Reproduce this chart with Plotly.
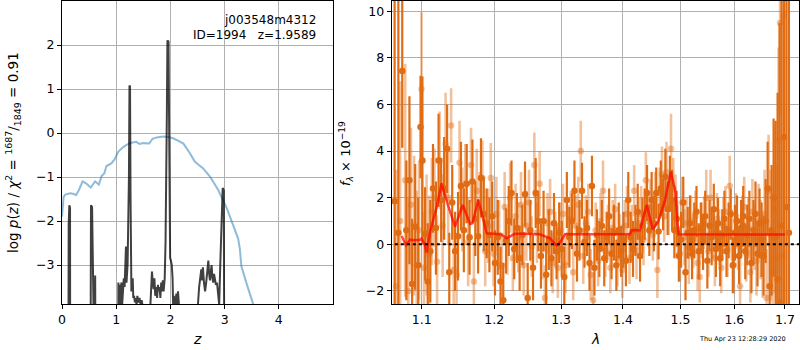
import numpy as np
import plotly.graph_objects as go

# ---------------- left panel: redshift PDF ----------------
prior_z = [0.0, 0.03, 0.06, 0.1, 0.15, 0.2, 0.26, 0.31, 0.38, 0.45, 0.53, 0.61, 0.68, 0.73, 0.78,
           0.82, 0.91, 0.97, 1.04, 1.12, 1.19, 1.28, 1.37, 1.43, 1.5, 1.61, 1.67, 1.75, 1.87,
           1.96, 2.05, 2.15, 2.24, 2.36, 2.45, 2.52, 2.6, 2.73, 2.88, 3.04, 3.16, 3.25, 3.28,
           3.31, 3.40, 3.52, 3.6]
prior_y = [-1.9, -1.45, -1.4, -1.39, -1.37, -1.38, -1.41, -1.3, -1.1, -1.15, -1.24, -1.1, -1.17,
           -0.98, -0.92, -0.75, -0.69, -0.6, -0.42, -0.33, -0.27, -0.22, -0.2, -0.25, -0.23,
           -0.24, -0.13, -0.1, -0.08, -0.09, -0.12, -0.18, -0.24, -0.46, -0.65, -0.72, -0.8,
           -0.99, -1.29, -1.71, -2.13, -2.4, -2.62, -3.03, -3.4, -3.86, -4.4]

pz_z = [0.0, 0.118, 0.123, 0.135, 0.148, 0.152, 0.525, 0.535, 0.555, 0.565, 0.605, 0.612, 0.62,
        1.035, 1.04, 1.05, 1.06, 1.075, 1.09, 1.1, 1.11, 1.125, 1.14, 1.155, 1.17, 1.18, 1.19,
        1.21, 1.235, 1.245, 1.255, 1.265, 1.28, 1.29, 1.305, 1.315, 1.33, 1.345, 1.36, 1.375,
        1.39, 1.41, 1.43, 1.45, 1.47, 1.49, 1.5, 1.54, 1.62, 1.635, 1.645, 1.66, 1.675, 1.69,
        1.705, 1.72, 1.74, 1.755, 1.77, 1.785, 1.8, 1.815, 1.83, 1.845, 1.86, 1.875, 1.895,
        1.91, 1.935, 1.945, 1.965, 1.975, 1.985, 1.995, 2.01, 2.025, 2.04, 2.05, 2.065, 2.08,
        2.095, 2.11, 2.125, 2.14, 2.155, 2.17, 2.2, 2.49, 2.51, 2.53, 2.55, 2.57, 2.585, 2.6,
        2.62, 2.64, 2.66, 2.68, 2.7, 2.715, 2.73, 2.745, 2.76, 2.775, 2.79, 2.805, 2.82, 2.84,
        2.86, 2.88, 2.9, 2.92, 2.945, 2.965, 2.985, 2.995, 5.0]
pz_y = [-6, -6, -2.1, -1.64, -1.7, -6, -6, -1.64, -1.68, -6, -6, -3.24, -6,
        -6, -3.4, -3.9, -3.45, -4.0, -3.45, -3.4, -3.9, -3.6, -3.3, -3.5, -2.6, -2.58, -3.4,
        -3.0, -1.0, 1.08, 1.05, -1.5, -3.6, -3.5, -3.3, -3.75, -3.7, -3.85, -3.75, -3.9,
        -3.7, -3.85, -3.75, -3.9, -3.8, -3.95, -4.2, -6, -4.2, -3.7, -3.6, -3.15, -3.4, -3.55,
        -3.3, -3.7, -3.5, -3.75, -3.45, -3.6, -3.5, -3.75, -3.4, -3.6, -3.35, -3.6, -3.3,
        -2.5, 0.5, 2.1, 2.08, 0.0, -2.7, -2.84, -2.9, -3.0, -3.3, -3.9, -3.7, -4.0,
        -3.85, -3.65, -3.9, -3.6, -3.85, -4.2, -6, -6, -3.87, -3.5, -3.3, -3.1, -3.35, -3.05,
        -3.4, -3.6, -3.4, -3.1, -2.9, -3.2, -3.35, -3.15, -3.0, -3.3, -3.4, -3.2, -3.3, -3.45,
        -3.4, -3.7, -3.9, -3.0, -2.0, -1.25, -1.3, -6, -6]

# ---------------- right panel: spectrum ----------------
wave_a = [1.0649, 1.0697, 1.0747, 1.0800, 1.0840, 1.0875, 1.0915, 1.0955, 1.0985, 1.1010, 1.1045,
          1.1080, 1.1115, 1.1150, 1.1190, 1.1225, 1.1260, 1.1300, 1.1340, 1.1370, 1.1410, 1.1450,
          1.1490, 1.1530, 1.1570, 1.1610, 1.1650, 1.1690, 1.1730, 1.1770, 1.1810, 1.1850, 1.1890,
          1.1930, 1.1970, 1.2010, 1.2050, 1.2090, 1.2130, 1.2170, 1.2210, 1.2250, 1.2290, 1.2330,
          1.2370, 1.2410, 1.2450, 1.2490, 1.2530, 1.2570, 1.2610, 1.2650, 1.2690, 1.2730, 1.2770,
          1.2810, 1.2850, 1.2890, 1.2930, 1.2970, 1.3010, 1.3050, 1.3090, 1.3130, 1.3170, 1.3210,
          1.3250, 1.3290, 1.3330, 1.3370, 1.3410, 1.3450, 1.3490, 1.3530, 1.3570, 1.3610, 1.3650,
          1.3690, 1.3730, 1.3770, 1.3810, 1.3850, 1.3890, 1.3930, 1.3970, 1.4010, 1.4050, 1.4090,
          1.4130, 1.4170, 1.4210, 1.4250, 1.4290, 1.4330, 1.4370, 1.4410, 1.4450, 1.4490, 1.4530,
          1.4570, 1.4610, 1.4650, 1.4690, 1.4730, 1.4770, 1.4810, 1.4850, 1.4890, 1.4930, 1.4970,
          1.5010, 1.5050, 1.5090, 1.5130, 1.5170, 1.5210, 1.5250, 1.5290, 1.5330, 1.5370, 1.5410,
          1.5450, 1.5490, 1.5530, 1.5570, 1.5610, 1.5650, 1.5690, 1.5730, 1.5770, 1.5810, 1.5850,
          1.5890, 1.5930, 1.5970, 1.6010, 1.6050, 1.6090, 1.6130, 1.6170, 1.6210, 1.6250, 1.6290,
          1.6330, 1.6370, 1.6410, 1.6450, 1.6490, 1.6530, 1.6570, 1.6610, 1.6650, 1.6690, 1.6730,
          1.6770, 1.6810, 1.6850, 1.6890, 1.6930, 1.6980, 1.7030, 1.7080]
flux_a = [1.85, 0.5, 7.44, 0.6, 2.75, -1.7, 0.75, -0.9, 5.03, 3.6, 0.45,
          -1.6, -0.3, 2.4, 0.7, 3.6, 1.9, 2.4, 4.1, -1.2, 1.8, -0.3,
          0.35, 2.5, 0.6, 2.6, 0.3, 2.7, 1.1, 0.35, 2.85, 1.3, 0.9,
          0.4, 1.2, -0.8, 0.3, -1.6, -2.4, 0.15, 1.0, 2.2, -0.2, 0.7,
          -0.6, 0.4, 2.15, -2.3, 0.6, -1.0, 2.2, 1.0, -0.5, 1.0, -1.3,
          0.2, -0.6, 0.9, -0.3, 0.5, -0.2, -1.4, 1.9, 0.3, 1.0, 2.3,
          -0.4, 0.6, 2.3, 0.1, 0.7, -0.8, 2.5, -1.0, 0.4, -0.2, 0.8,
          -0.6, 0.3, 1.2, -0.4, 0.5, -0.9, 0.6, -0.3, 0.2, -0.7, 1.9,
          0.3, -0.2, 0.6, 1.4, -0.5, 0.8, 1.3, 2.2, 0.6, 1.9, 0.9,
          2.2, 0.55, 2.4, 1.7, 2.9, 1.5, 2.6, 1.9, 0.6, 1.1, -0.5,
          0.2, 1.8, -1.2, 0.5, 0.9, -0.4, 0.6, 1.4, -0.3, 0.7, 0.1,
          1.2, -0.7, 0.8, 0.3, 1.5, -0.2, 0.9, -0.6, 0.4, 1.1, -0.3,
          0.6, 1.3, -0.9, 0.5, 1.0, -0.5, 0.7, 1.2, -0.3, 0.4, 1.1,
          -0.8, 0.6, 1.3, -0.4, 0.9, 0.2, -0.5, 1.0, 2.4, -1.8, 0.6,
          2.0, 0.3, -1.5, -2.5, 0.8, 4.6, 1.6, 0.5]
err_a = [12.0, 12.0, 3.3, 3.0, 3.6, 2.8, 2.7, 2.9, 2.2, 3.6, 2.0,
         2.5, 2.2, 1.9, 2.0, 2.0, 1.8, 2.2, 1.9, 1.7, 1.6, 1.7,
         1.9, 1.9, 1.8, 1.7, 1.6, 1.8, 1.6, 1.6, 1.7, 1.6, 1.5,
         1.6, 1.5, 1.4, 1.6, 1.5, 1.6, 1.4, 1.5, 1.4, 1.3, 1.5,
         1.4, 1.3, 1.4, 1.5, 1.3, 1.4, 1.5, 1.3, 1.4, 1.3, 1.4,
         1.3, 1.2, 1.3, 1.2, 1.3, 1.2, 1.3, 1.2, 1.3, 1.2, 1.3,
         1.2, 1.3, 1.2, 1.1, 1.2, 1.2, 1.3, 1.2, 1.1, 1.2, 1.1,
         1.2, 1.1, 1.2, 1.1, 1.2, 1.1, 1.2, 1.1, 1.2, 1.1, 1.2,
         1.1, 1.2, 1.1, 1.2, 1.1, 1.2, 1.1, 1.2, 1.1, 1.2, 1.2,
         1.1, 1.2, 1.2, 1.1, 1.2, 1.1, 1.2, 1.3, 1.2, 1.2, 1.1,
         1.2, 1.1, 1.2, 1.1, 1.2, 1.1, 1.2, 1.1, 1.2, 1.1, 1.2,
         1.1, 1.2, 1.1, 1.2, 1.1, 1.2, 1.1, 1.2, 1.1, 1.2, 1.1,
         1.2, 1.1, 1.2, 1.2, 1.1, 1.2, 1.2, 1.3, 1.2, 1.3, 1.2,
         1.3, 1.3, 1.4, 1.4, 1.5, 1.6, 1.7, 1.8, 2.0, 2.3, 2.8,
         3.4, 5.0, 8.0, 12.0, 14.0, 14.0, 14.0, 14.0]

wave_b = [1.0670, 1.0720, 1.0785, 1.0825, 1.0860, 1.0900, 1.0935, 1.0965, 1.0998, 1.1030, 1.1065,
          1.1100, 1.1135, 1.1170, 1.1205, 1.1240, 1.1280, 1.1320, 1.1355, 1.1395, 1.1430, 1.1470,
          1.1510, 1.1550, 1.1590, 1.1630, 1.1670, 1.1710, 1.1750, 1.1790, 1.1830, 1.1870, 1.1910,
          1.1950, 1.1990, 1.2030, 1.2070, 1.2110, 1.2150, 1.2190, 1.2230, 1.2270, 1.2310, 1.2350,
          1.2390, 1.2430, 1.2470, 1.2510, 1.2550, 1.2590, 1.2630, 1.2670, 1.2710, 1.2750, 1.2790,
          1.2830, 1.2870, 1.2910, 1.2950, 1.2990, 1.3030, 1.3070, 1.3110, 1.3150, 1.3190, 1.3230,
          1.3270, 1.3310, 1.3350, 1.3390, 1.3430, 1.3470, 1.3510, 1.3550, 1.3590, 1.3630, 1.3670,
          1.3710, 1.3750, 1.3790, 1.3830, 1.3870, 1.3910, 1.3950, 1.3990, 1.4030, 1.4070, 1.4110,
          1.4150, 1.4190, 1.4230, 1.4270, 1.4310, 1.4350, 1.4390, 1.4430, 1.4470, 1.4510, 1.4550,
          1.4590, 1.4630, 1.4670, 1.4710, 1.4750, 1.4790, 1.4830, 1.4870, 1.4910, 1.4950, 1.4990,
          1.5030, 1.5070, 1.5110, 1.5150, 1.5190, 1.5230, 1.5270, 1.5310, 1.5350, 1.5390, 1.5430,
          1.5470, 1.5510, 1.5550, 1.5590, 1.5630, 1.5670, 1.5710, 1.5750, 1.5790, 1.5830, 1.5870,
          1.5910, 1.5950, 1.5990, 1.6030, 1.6070, 1.6110, 1.6150, 1.6190, 1.6230, 1.6270, 1.6310,
          1.6350, 1.6390, 1.6430, 1.6470, 1.6510, 1.6550, 1.6590, 1.6630, 1.6670, 1.6710, 1.6750,
          1.6790, 1.6830, 1.6870, 1.6900, 1.6950, 1.6975]
flux_b = [-1.8, 1.0, 2.75, -2.0, 1.7, 0.8, -0.9, 0.6, 6.66, -1.0, 0.4,
          -0.4, 1.4, 2.0, -0.75, 3.6, 0.8, 4.3, 2.0, 5.1, -1.1, -1.3,
          3.5, 1.5, 2.6, 0.1, 3.4, -1.6, 2.3, 1.5, 2.85, -0.3, 0.8,
          2.85, -0.4, 1.3, 0.4, -0.9, 1.6, 0.1, 2.0, -0.6, 1.2, 0.3,
          1.7, -0.9, 0.8, 1.8, -0.1, 3.4, 0.5, 2.6, -0.2, -2.3, 0.9,
          1.4, -0.8, 0.2, -1.0, 0.6, 1.3, -0.9, 0.4, 1.1, -1.2, 0.8,
          1.7, 4.0, -0.5, 0.9, 1.4, -1.3, -2.4, 0.6, -0.7, 1.0, 2.3,
          -0.3, 0.5, -1.0, 0.7, 1.5, -0.6, 0.2, -1.1, 0.8, 1.3, -0.6,
          0.5, 2.3, -0.3, 0.9, 1.3, 0.2, 2.75, 1.0, 1.6, 0.4, 1.9,
          -1.1, 2.2, 3.0, 1.2, 3.1, 1.6, 4.1, 2.4, 1.8, 0.6, -0.4,
          1.8, 0.3, 0.9, -0.5, 1.0, 0.2, 1.2, -0.8, -1.4, 0.6, 0.9,
          2.0, -0.3, 2.0, 0.5, -0.6, 1.1, 0.3, -1.0, 0.8, 1.4, -0.2,
          2.5, 0.4, -0.9, 1.0, 0.1, -1.8, 0.9, 1.6, -0.4, 0.7, -1.2,
          1.4, 0.3, -0.7, 1.0, 0.2, -0.5, 1.3, -2.3, 2.3, 0.4, -1.2,
          1.5, -0.6, 4.45, 9.5, -0.5, 9.8]
err_b = [5.0, 6.0, 5.0, 4.0, 3.3, 3.0, 3.2, 3.0, 3.3, 2.4, 2.6,
         2.5, 2.3, 2.1, 2.0, 2.1, 2.2, 2.2, 2.0, 1.6, 1.9, 1.8,
         1.8, 1.8, 1.7, 1.9, 1.6, 1.7, 1.8, 1.6, 1.6, 1.5, 1.6,
         1.5, 1.4, 1.6, 1.5, 1.4, 1.5, 1.4, 1.5, 1.4, 1.4, 1.5,
         1.4, 1.3, 1.5, 1.4, 1.3, 1.4, 1.3, 1.4, 1.3, 1.4, 1.3,
         1.4, 1.3, 1.2, 1.3, 1.2, 1.3, 1.2, 1.3, 1.2, 1.2, 1.3,
         1.2, 1.3, 1.2, 1.2, 1.2, 1.1, 1.2, 1.2, 1.1, 1.2, 1.3,
         1.1, 1.2, 1.1, 1.2, 1.1, 1.2, 1.1, 1.2, 1.1, 1.2, 1.1,
         1.2, 1.1, 1.2, 1.1, 1.2, 1.1, 1.2, 1.1, 1.2, 1.1, 1.2,
         1.2, 1.1, 1.2, 1.1, 1.3, 1.2, 1.5, 1.3, 1.2, 1.1, 1.2,
         1.1, 1.2, 1.1, 1.2, 1.1, 1.2, 1.1, 1.2, 1.1, 1.2, 1.1,
         1.2, 1.1, 1.2, 1.1, 1.2, 1.1, 1.2, 1.1, 1.2, 1.1, 1.2,
         1.3, 1.1, 1.2, 1.2, 1.2, 1.3, 1.2, 1.3, 1.2, 1.3, 1.3,
         1.4, 1.4, 1.5, 1.6, 1.7, 1.8, 1.9, 2.1, 2.4, 2.8, 3.2,
         3.6, 4.0, 4.0, 4.0, 5.0, 5.0]

model_wave = [1.0739, 1.0795, 1.0847, 1.0900, 1.0982, 1.1000, 1.1040, 1.1066, 1.1116, 1.1200,
              1.1266, 1.1350, 1.1449, 1.1555, 1.1657, 1.1690, 1.1772, 1.1840, 1.1891, 1.2000,
              1.2100, 1.2178, 1.2298, 1.2450, 1.2672, 1.2828, 1.2931, 1.2990, 1.3061, 1.3500,
              1.4000, 1.4118, 1.4150, 1.4289, 1.4405, 1.4509, 1.4607, 1.4725, 1.4826, 1.4903,
              1.4962, 1.5500, 1.6000, 1.6500, 1.7000]
model_flux = [0.36, -0.03, 0.2, 0.18, 0.2, 0.25, 0.0, -0.35, 0.6, 1.6,
              2.62, 1.7, 0.76, 1.69, 0.87, 0.9, 1.9, 1.0, 0.47, 0.45,
              0.42, 0.26, 0.45, 0.45, 0.43, 0.26, -0.06, 0.1, 0.43, 0.43,
              0.43, 0.43, 0.6, 0.6, 1.69, 0.64, 0.99, 1.9, 3.12, 2.32,
              0.43, 0.42, 0.42, 0.42, 0.42]

# ---------------- figure ----------------
FONT = "DejaVu Sans"
DARK = "rgb(224,108,19)"
LIGHT = "rgba(224,108,19,0.42)"

fig = go.Figure()

fig.add_trace(go.Scatter(x=prior_z, y=prior_y, mode="lines",
                         line=dict(color="rgba(31,119,180,0.5)", width=2),
                         xaxis="x", yaxis="y", showlegend=False, hoverinfo="skip"))
fig.add_trace(go.Scatter(x=pz_z, y=pz_y, mode="lines",
                         line=dict(color="rgba(0,0,0,0.75)", width=2),
                         xaxis="x", yaxis="y", showlegend=False, hoverinfo="skip"))

fig.add_trace(go.Scatter(x=wave_a, y=flux_a, mode="markers",
                         marker=dict(color=DARK, size=6.5),
                         error_y=dict(type="data", array=err_a, color=DARK, thickness=2.2, width=0),
                         xaxis="x2", yaxis="y2", showlegend=False, hoverinfo="skip"))
fig.add_trace(go.Scatter(x=wave_b, y=flux_b, mode="markers",
                         marker=dict(color=LIGHT, size=6.5),
                         error_y=dict(type="data", array=err_b, color=LIGHT, thickness=2.6, width=0),
                         xaxis="x2", yaxis="y2", showlegend=False, hoverinfo="skip"))
fig.add_trace(go.Scatter(x=model_wave, y=model_flux, mode="lines",
                         line=dict(color="rgba(255,0,0,0.7)", width=2.5),
                         xaxis="x2", yaxis="y2", showlegend=False, hoverinfo="skip"))
fig.add_trace(go.Scatter(x=[1.05, 1.75], y=[0, 0], mode="lines",
                         line=dict(color="black", width=2, dash="dot"),
                         xaxis="x2", yaxis="y2", showlegend=False, hoverinfo="skip"))

axis_common = dict(showline=True, mirror=True, linecolor="black", linewidth=1,
                   ticks="outside", ticklen=4, tickcolor="black", tickwidth=1,
                   showgrid=True, gridcolor="#b0b0b0", gridwidth=1, zeroline=False,
                   tickfont=dict(family=FONT, size=12.5, color="black"), automargin=False)

YDOM = [46 / 350, 349 / 350]

fig.update_layout(
    width=800, height=350,
    margin=dict(l=0, r=0, t=0, b=0),
    paper_bgcolor="white", plot_bgcolor="white",
    xaxis=dict(domain=[62 / 800, 333 / 800], range=[0, 5], tickvals=[0, 1, 2, 3, 4],
               anchor="y", **axis_common),
    yaxis=dict(domain=YDOM, range=[-3.886, 3.0], tickvals=[-3, -2, -1, 0, 1, 2],
               anchor="x", **axis_common),
    xaxis2=dict(domain=[391.7 / 800, 799 / 800], type="log",
                range=[np.log10(1.0612), np.log10(1.7288)],
                tickvals=[1.1, 1.2, 1.3, 1.4, 1.5, 1.6, 1.7],
                ticktext=["1.1", "1.2", "1.3", "1.4", "1.5", "1.6", "1.7"],
                anchor="y2", **axis_common),
    yaxis2=dict(domain=YDOM, range=[-2.56, 10.44], tickvals=[-2, 0, 2, 4, 6, 8, 10],
                anchor="x2", **axis_common),
)

def ann(text, x, y, size=12.5, angle=0, xanchor="center"):
    fig.add_annotation(text=text, x=x, y=y, xref="paper", yref="paper",
                       xanchor=xanchor, yanchor="middle", showarrow=False, textangle=angle,
                       font=dict(family=FONT, size=size, color="black"))

ann("j003548m4312", 318 / 800, 1 - 20 / 350, size=12, xanchor="right")
ann("ID=1994\u00a0\u00a0\u00a0z=1.9589", 318 / 800, 1 - 35 / 350, size=12, xanchor="right")
ann("<i>z</i>", 197 / 800, 1 - 339 / 350, size=14)
ann("<i>λ</i>", 595 / 800, 1 - 339 / 350, size=14)
ann("log <i>p</i>(<i>z</i>) / <i>χ</i><sup>2</sup> = <sup>1687</sup>/<sub>1849</sub> = 0.91",
    13 / 800, 1 - 153 / 350, size=13.5, angle=-90)
ann("<i>f</i><sub><i>λ</i></sub> × 10<sup>−19</sup>", 346 / 800, 1 - 154 / 350, size=13, angle=-90)
ann("Thu Apr 23 12:28:29 2020", 742 / 800, 1 - 339 / 350, size=6.5)

fig.write_html("out.html", config={"displayModeBar": False},
               post_script="document.body.style.margin='0px';document.body.style.overflow='hidden';")
